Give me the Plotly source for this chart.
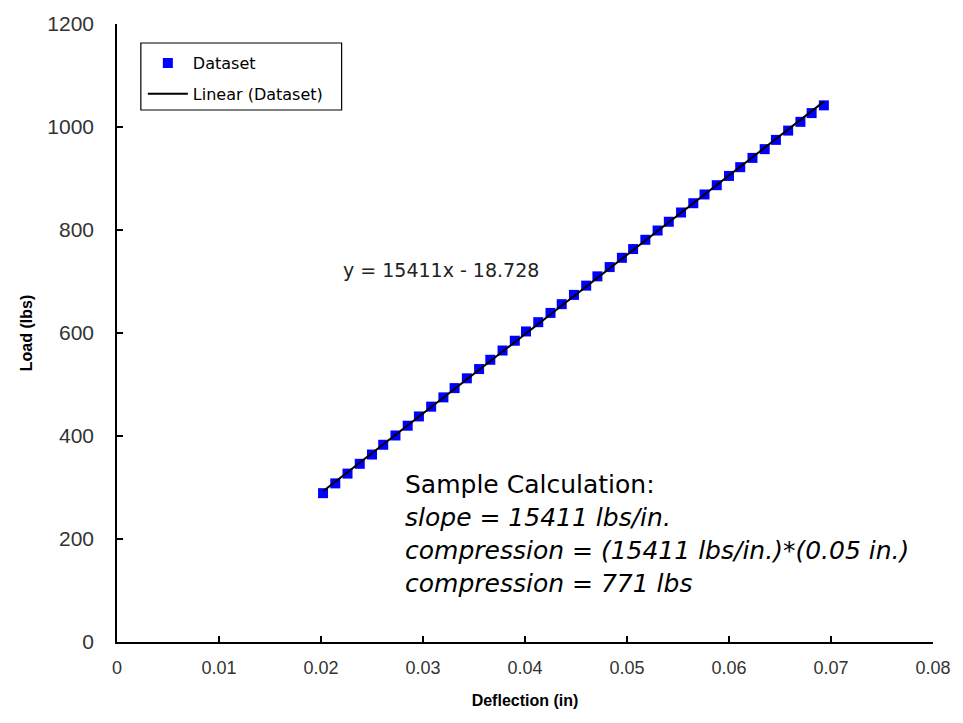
import plotly.graph_objects as go

# ---- data ----
deflection = [0.0202, 0.0214, 0.0226, 0.0238, 0.0250, 0.0261, 0.0273, 0.0285, 0.0296,
              0.0308, 0.0320, 0.0331, 0.0343, 0.0355, 0.0366, 0.0378, 0.0390, 0.0401,
              0.0413, 0.0425, 0.0436, 0.0448, 0.0460, 0.0471, 0.0483, 0.0495, 0.0506,
              0.0518, 0.0530, 0.0541, 0.0553, 0.0565, 0.0576, 0.0588, 0.0600, 0.0611,
              0.0623, 0.0635, 0.0646, 0.0658, 0.0670, 0.0681, 0.0693]
load = [289, 308, 327, 346, 364, 383, 401, 420, 438, 457, 475, 493, 512, 530, 548,
        566, 585, 603, 621, 639, 656, 674, 692, 710, 728, 746, 763, 781, 799, 816,
        834, 852, 869, 887, 905, 922, 940, 957, 975, 993, 1010, 1027, 1042]
fit_slope = 15411
fit_intercept = -18.728
x_ticks = [0, 0.01, 0.02, 0.03, 0.04, 0.05, 0.06, 0.07, 0.08]
y_ticks = [0, 200, 400, 600, 800, 1000, 1200]

W, H = 963, 723
ML, MR, MT, MB = 117, 25, 24, 81
PW, PH = W - ML - MR, H - MT - MB


def px(xp):
    return (xp - ML) / PW


def py(yp):
    return (H - MB - yp) / PH


fit_x = [min(deflection), max(deflection)]
fit_y = [fit_slope * v + fit_intercept for v in fit_x]

fig = go.Figure()
fig.add_trace(go.Scatter(
    x=deflection, y=load, mode="markers", name="Dataset", legendgroup="a",
    marker=dict(symbol="square", size=10, color="#0000FF", line=dict(width=0)),
))
fig.add_trace(go.Scatter(
    x=fit_x, y=fit_y, mode="lines", name="Linear (Dataset)", legendgroup="b",
    line=dict(color="black", width=2),
))

font_main = "Liberation Sans, Arial, sans-serif"
font_wide = "DejaVu Sans, Verdana, sans-serif"
font_narrow = "Liberation Sans Narrow, Arial Narrow, Liberation Sans, Arial, sans-serif"

axis_common = dict(
    showline=True, linecolor="black", linewidth=1.5, mirror=False,
    ticks="inside", ticklen=6, tickcolor="black", tickwidth=1.5,
    showgrid=False, zeroline=False,
)

fig.update_layout(
    width=W, height=H,
    margin=dict(l=ML, r=MR, t=MT, b=MB),
    paper_bgcolor="white", plot_bgcolor="white",
    xaxis=dict(range=[0, 0.08], tickvals=x_ticks,
               ticktext=[f"{v:g}" for v in x_ticks],
               tickfont=dict(family=font_main, size=18, color="#333333"),
               title=dict(text="<b>Deflection (in)</b>",
                          font=dict(family=font_narrow, size=16, color="black"),
                          standoff=17),
               ticklabelstandoff=9,
               **axis_common),
    yaxis=dict(range=[0, 1200], tickvals=y_ticks,
               ticktext=[str(v) for v in y_ticks],
               tickfont=dict(family=font_main, size=21, color="#333333"),
               title=dict(text="<b>Load (lbs)</b>",
                          font=dict(family=font_narrow, size=16, color="black"),
                          standoff=11),
               ticklabelstandoff=17,
               **axis_common),
    showlegend=True,
    legend=dict(
        x=px(143), y=py(46), xanchor="left", yanchor="top",
        bgcolor="rgba(0,0,0,0)", borderwidth=0,
        font=dict(family=font_wide, size=16, color="black"),
        tracegroupgap=7, itemwidth=40,
    ),
    shapes=[dict(type="rect", xref="paper", yref="paper",
                 x0=px(141), x1=px(343), y0=py(110), y1=py(43),
                 line=dict(color="black", width=1.2), fillcolor="rgba(0,0,0,0)",
                 layer="below")],
)

fig.add_annotation(
    x=px(342), y=py(270), xref="paper", yref="paper", xanchor="left", yanchor="middle",
    text="y = 15411x - 18.728", showarrow=False,
    font=dict(family=font_wide, size=19, color="#222222"),
)

calc_lines = [
    "Sample Calculation:",
    "<i>slope = 15411 lbs/in.</i>",
    "<i>compression = (15411 lbs/in.)*(0.05 in.)</i>",
    "<i>compression = 771 lbs</i>",
]
for i, t in enumerate(calc_lines):
    fig.add_annotation(
        x=px(405), y=py(484 + 33 * i), xref="paper", yref="paper",
        xanchor="left", yanchor="middle", text=t, showarrow=False,
        font=dict(family=font_wide, size=25, color="black"),
    )

fig.write_html("out.html")
